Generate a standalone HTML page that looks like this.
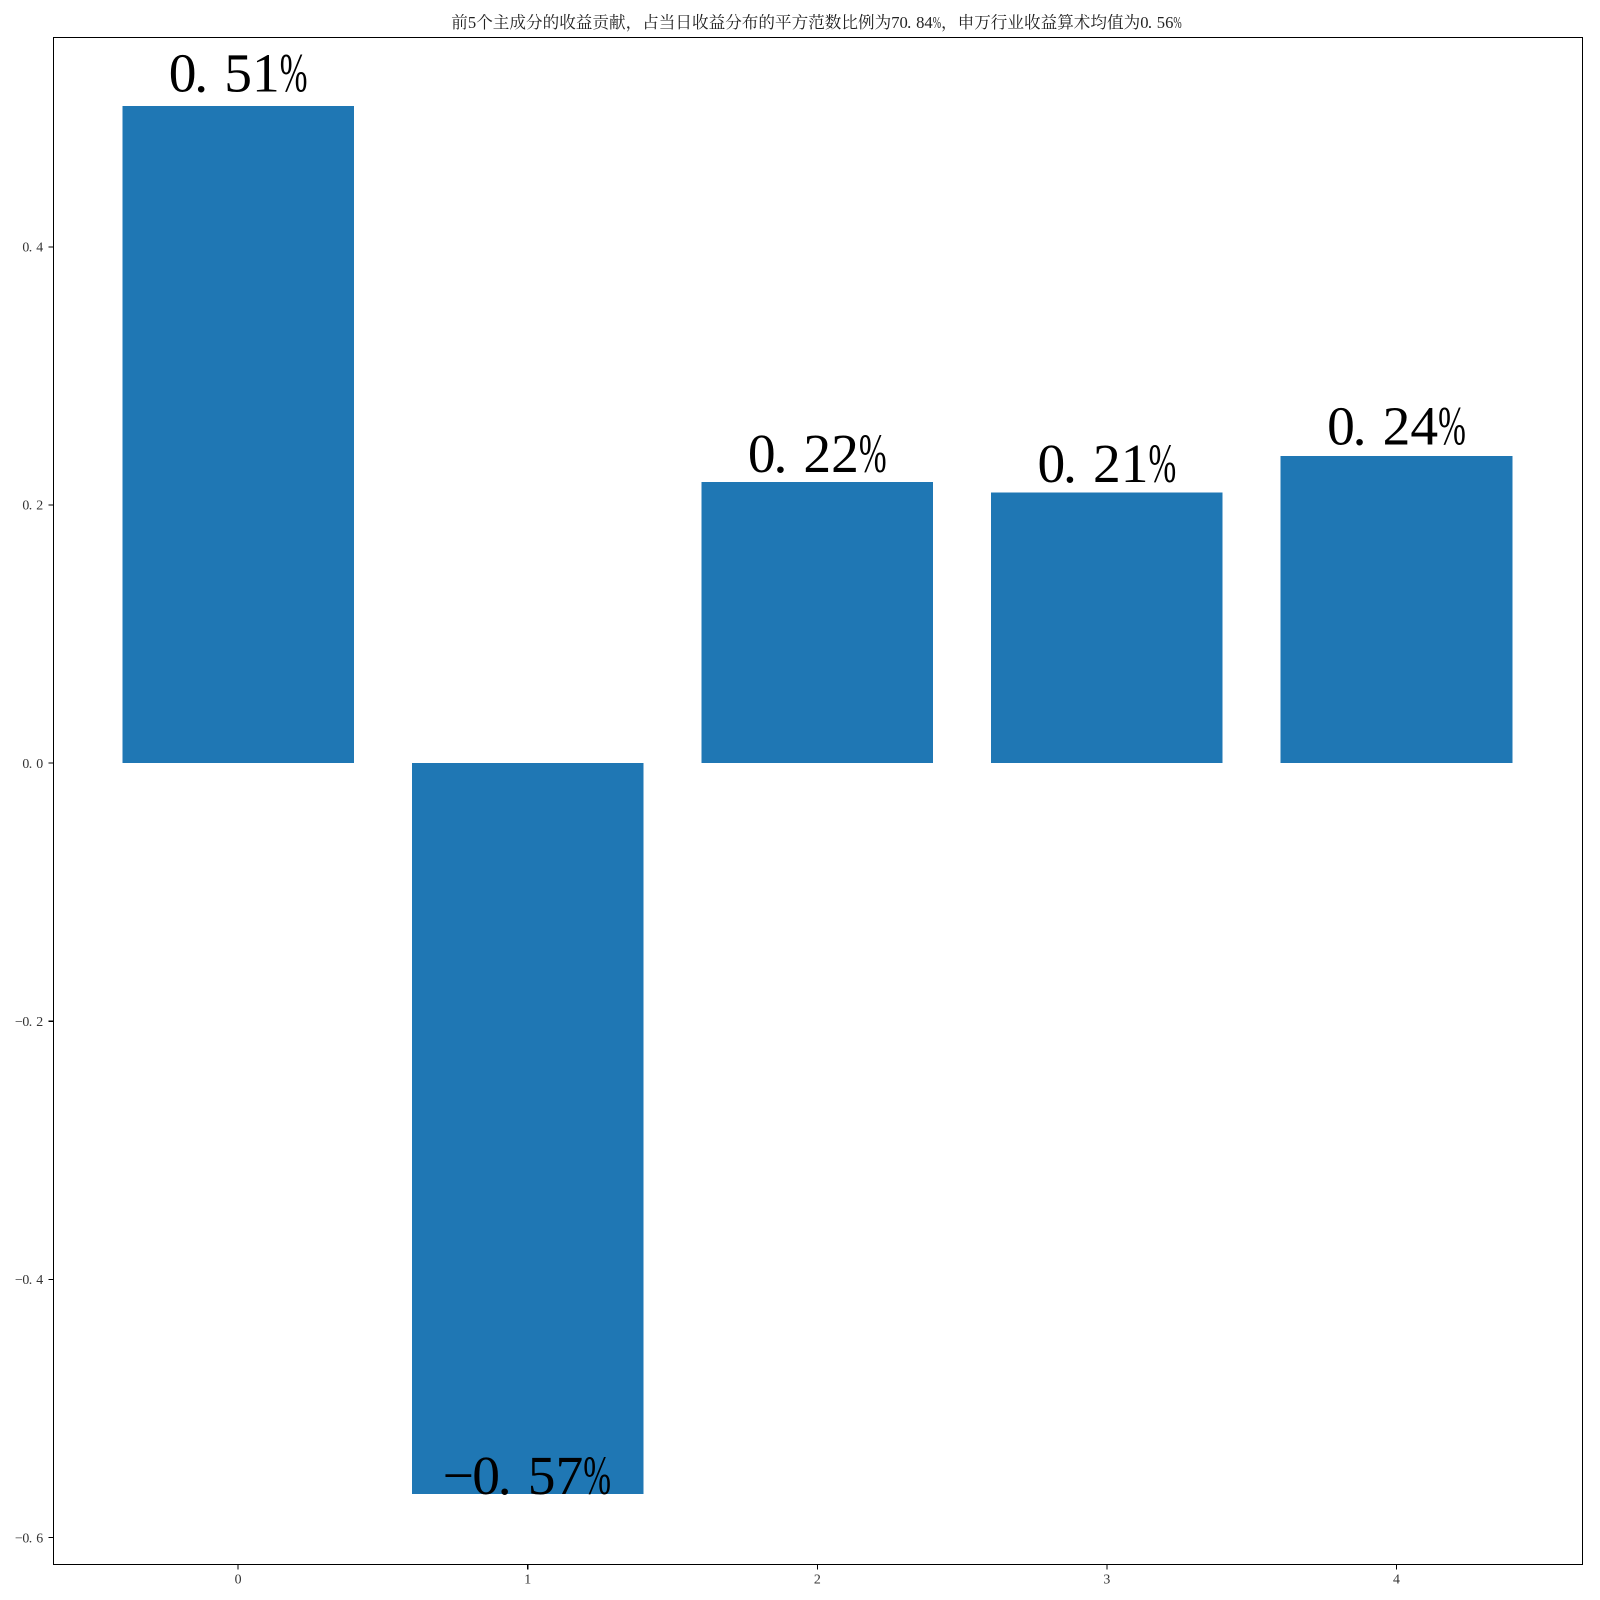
<!DOCTYPE html>
<html lang="zh">
<head>
<meta charset="utf-8">
<title>前5个主成分的收益贡献</title>
<style>
html,body{margin:0;padding:0;background:#fff}
svg{display:block}
text{font-family:"Liberation Serif","Noto Serif CJK SC",serif}
</style>
</head>
<body>
<svg id="chart" xmlns="http://www.w3.org/2000/svg" width="1600" height="1600" viewBox="0 0 1600 1600">
  <rect x="0" y="0" width="1600" height="1600" fill="#ffffff"/>
  <g id="bars"></g>
  <g id="bar-labels"></g>
  <g id="x-axis"></g>
  <g id="y-axis"></g>
  <rect x="53.5" y="37.5" width="1529" height="1527" fill="none" stroke="#000" stroke-width="1.1" shape-rendering="crispEdges"/>
  <text id="chart-title" y="28" font-size="16.6" fill="#222">前5个主成分的收益贡献，占当日收益分布的平方范数比例为70.84%，申万行业收益算术均值为0.56%</text>
</svg>
<script>
const categories = [0, 1, 2, 3, 4];
const values = [0.5092, -0.5663, 0.218, 0.2095, 0.238];
const labelLift = [0.011, 0, 0.0076, 0.0083, 0.0087];
const xTickLabels = ["0", "1", "2", "3", "4"];
const yTicks = [-0.6, -0.4, -0.2, 0, 0.2, 0.4];
const yTickLabels = ["\u22120.6", "\u22120.4", "\u22120.2", "0.0", "0.2", "0.4"];

const SVG_NS = "http://www.w3.org/2000/svg";
const frame = { left: 53.5, right: 1582.5, top: 37.5, bottom: 1564.5 };
const plot = { left: 52.8, right: 1581.8, top: 36.5, bottom: 1563.5 };
const barWidth = 0.8;

const xLow = Math.min(...categories) - barWidth / 2;
const xHigh = Math.max(...categories) + barWidth / 2;
const xPad = (xHigh - xLow) * 0.05;
const dataLow = Math.min(0, ...values);
const dataHigh = Math.max(0, ...values);
const yPad = (dataHigh - dataLow) * 0.05;

function xScale(v) {
  return plot.left + (v - (xLow - xPad)) / ((xHigh + xPad) - (xLow - xPad)) * (plot.right - plot.left);
}
function yScale(v) {
  return plot.bottom - (v - (dataLow - yPad)) / ((dataHigh + yPad) - (dataLow - yPad)) * (plot.bottom - plot.top);
}

function svgEl(tag) {
  return document.createElementNS(SVG_NS, tag);
}

/* half-width glyph slots, as in the monospaced-Latin font of the reference */
function fillHalfWidth(textEl, str, startX, size) {
  const slot = size / 2;
  let pos = startX;
  let run = "";
  let runX = [];
  const flush = function () {
    if (run) {
      const t = svgEl("tspan");
      t.setAttribute("x", runX.join(" "));
      t.textContent = run;
      textEl.appendChild(t);
    }
    run = "";
    runX = [];
  };
  for (const ch of str) {
    const wide = ch.charCodeAt(0) > 0x2fff;
    if (ch === "%") {
      flush();
      const p = svgEl("tspan");
      p.setAttribute("x", pos.toFixed(2));
      p.setAttribute("textLength", slot.toFixed(2));
      p.setAttribute("lengthAdjust", "spacingAndGlyphs");
      p.textContent = ch;
      textEl.appendChild(p);
    } else {
      run += ch;
      let off = 0;
      if (ch === ".") off = -size * 0.04;
      if (ch === "\u2212") off = -size * 0.03;
      runX.push((pos + off).toFixed(2));
    }
    pos += wide ? size : slot;
  }
  flush();
}

function halfWidthLength(str, size) {
  let n = 0;
  for (const ch of str) n += ch.charCodeAt(0) > 0x2fff ? size : size / 2;
  return n;
}

const barsG = document.getElementById("bars");
const labelsG = document.getElementById("bar-labels");
const xG = document.getElementById("x-axis");
const yG = document.getElementById("y-axis");

categories.forEach(function (c, i) {
  const v = values[i];
  const r = svgEl("rect");
  
  
  const y0 = yScale(0);
  const y1 = yScale(v);
  r.setAttribute("x", xScale(c - barWidth / 2));
  r.setAttribute("width", xScale(c + barWidth / 2) - xScale(c - barWidth / 2));
  r.setAttribute("y", Math.min(y0, y1));
  r.setAttribute("height", Math.abs(y1 - y0));
  r.setAttribute("fill", "#1f77b4");
  r.setAttribute("shape-rendering", "crispEdges");
  barsG.appendChild(r);

  const size = 55.5;
  const str = v.toFixed(2).replace("-", "\u2212") + "%";
  const t = svgEl("text");
  
  
  t.setAttribute("y", yScale(v + labelLift[i]));
  t.setAttribute("font-size", size);
  t.setAttribute("fill", "#000");
  fillHalfWidth(t, str, xScale(c) - halfWidthLength(str, size) / 2, size);
  labelsG.appendChild(t);

  const tick = svgEl("line");
  
  
  tick.setAttribute("x1", xScale(c));
  tick.setAttribute("x2", xScale(c));
  tick.setAttribute("y1", frame.bottom);
  tick.setAttribute("y2", frame.bottom + 4.9);
  tick.setAttribute("stroke", "#000");
  tick.setAttribute("stroke-width", "1.1");
  tick.setAttribute("shape-rendering", "crispEdges");
  xG.appendChild(tick);

  const lab = svgEl("text");
  
  
  lab.setAttribute("x", xScale(c));
  lab.setAttribute("y", frame.bottom + 19);
  lab.setAttribute("font-size", "13.89");
  lab.setAttribute("text-anchor", "middle");
  lab.setAttribute("fill", "#333");
  lab.textContent = xTickLabels[i];
  xG.appendChild(lab);
});

yTicks.forEach(function (v, i) {
  const tick = svgEl("line");
  
  
  tick.setAttribute("x1", frame.left - 4.9);
  tick.setAttribute("x2", frame.left);
  tick.setAttribute("y1", yScale(v));
  tick.setAttribute("y2", yScale(v));
  tick.setAttribute("stroke", "#000");
  tick.setAttribute("stroke-width", "1.1");
  tick.setAttribute("shape-rendering", "crispEdges");
  yG.appendChild(tick);

  const size = 13.89;
  const str = yTickLabels[i];
  const lab = svgEl("text");
  
  
  lab.setAttribute("y", yScale(v) + 4.7);
  lab.setAttribute("font-size", size);
  lab.setAttribute("fill", "#333");
  fillHalfWidth(lab, str, 43.2 - halfWidthLength(str, size), size);
  yG.appendChild(lab);
});

const titleEl = document.getElementById("chart-title");
const titleStr = titleEl.textContent;
const titleSize = 16.6;
titleEl.textContent = "";
fillHalfWidth(titleEl, titleStr, (frame.left + frame.right) / 2 - 1.5 - halfWidthLength(titleStr, titleSize) / 2, titleSize);
</script>
</body>
</html>
